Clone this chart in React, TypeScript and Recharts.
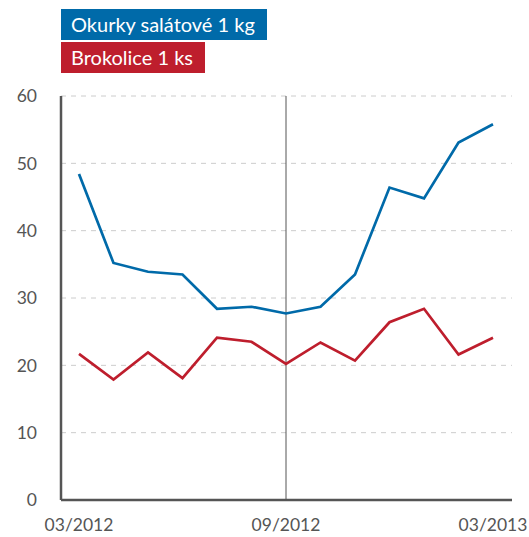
import React from "react";
import { LineChart, Line, XAxis, YAxis, CartesianGrid, ReferenceLine } from "recharts";

const months = ["03/2012","04/2012","05/2012","06/2012","07/2012","08/2012","09/2012","10/2012","11/2012","12/2012","01/2013","02/2013","03/2013"];
const okurky = [48.4, 35.2, 33.9, 33.5, 28.4, 28.7, 27.7, 28.7, 33.5, 46.4, 44.8, 53.1, 55.8];
const brokolice = [21.7, 17.9, 21.9, 18.1, 24.1, 23.5, 20.2, 23.4, 20.7, 26.4, 28.4, 21.6, 24.1];
const xTicks = ["03/2012", "09/2012", "03/2013"];
const yTicks = [0, 10, 20, 30, 40, 50, 60];
const seriesNames = ["Okurky salátové 1 kg", "Brokolice 1 ks"];
const colors = ["#006aa9", "#be1e2d"];

const data = months.map((m, i) => ({ month: m, okurky: okurky[i], brokolice: brokolice[i] }));

const FONT = "Lato, 'Noto Sans', sans-serif";

export default function App() {
  return (
    <div style={{ position: "absolute", left: 0, top: 0, width: 529, height: 537, background: "#fff" }}>
      <div style={{ position: "absolute", left: 61, top: 9, fontFamily: FONT, zIndex: 2 }}>
        {seriesNames.map((n, i) => (
          <div key={n} style={{ background: colors[i], color: "#fff", fontSize: 20, height: 31, lineHeight: "31px", padding: "0 12px 0 10px", display: "table", marginBottom: 2, whiteSpace: "nowrap" }}>{n}</div>
        ))}
      </div>
      <LineChart width={529} height={537} data={data} margin={{ top: 96, right: 17, bottom: 7, left: 0 }}>
        <CartesianGrid vertical={false} stroke="#cccccc" strokeDasharray="5 5" />
        <XAxis dataKey="month" ticks={xTicks} interval={0} tickLine={false} tickSize={0} tickMargin={19} height={30}
          axisLine={{ stroke: "#555", strokeWidth: 2.5 }} padding={{ left: 18, right: 19 }}
          tick={{ fill: "#555", fontSize: 17.5, fontFamily: FONT }} />
        <YAxis domain={[0, 60]} ticks={yTicks} width={61} tickLine={false} tickSize={0} tickMargin={24}
          axisLine={{ stroke: "#555", strokeWidth: 2.5 }}
          tick={{ fill: "#555", fontSize: 17.5, fontFamily: FONT }} />
        <ReferenceLine x="09/2012" stroke="#555" strokeWidth={1} />
        <Line type="linear" dataKey="okurky" name={seriesNames[0]} stroke={colors[0]} strokeWidth={2.7} dot={false} isAnimationActive={false} />
        <Line type="linear" dataKey="brokolice" name={seriesNames[1]} stroke={colors[1]} strokeWidth={2.7} dot={false} isAnimationActive={false} />
      </LineChart>
    </div>
  );
}
